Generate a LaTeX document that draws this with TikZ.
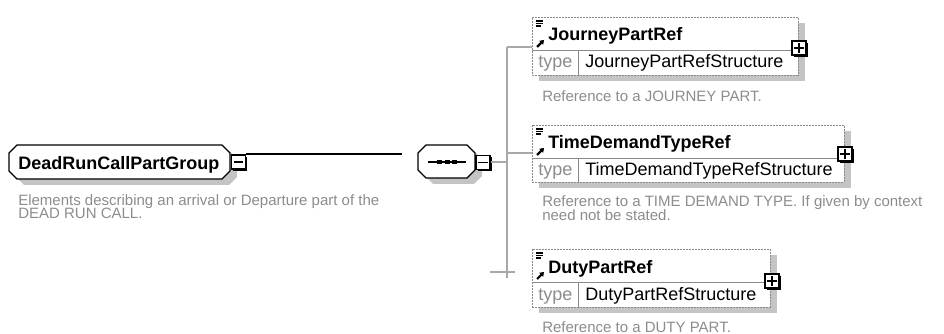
\documentclass[tikz,border=0pt]{standalone}
\usepackage{fontspec}
\setmainfont{Liberation Sans}
\usetikzlibrary{shadows,arrows.meta}
\newlength{\pxu}\setlength{\pxu}{0.75pt}
\definecolor{boxline}{HTML}{8A8A8A}
\definecolor{shadowgray}{HTML}{C4C4C4}
\definecolor{desctext}{HTML}{8C8C8C}
\definecolor{conngray}{HTML}{A8A8A8}
\tikzset{
  shad/.style={drop shadow={shadow xshift=5.25pt, shadow yshift=-4.5pt, fill=shadowgray, opacity=1}},
  elembox/.style={rectangle, draw=boxline, dash pattern=on 1.5pt off 0.75pt, fill=white, line width=0.6pt, inner sep=0, anchor=north west, shad},
  octo/.style={draw=black, line width=0.9pt, fill=white, shad},
  titletext/.style={font=\fontsize{13.5}{16}\selectfont\bfseries, inner sep=0, anchor=base west},
  typetext/.style={font=\fontsize{13.5}{16}\selectfont, inner sep=0, anchor=base west},
  typelabel/.style={typetext, text=desctext},
  desc/.style={font=\fontsize{11.25}{13}\selectfont, text=desctext, inner sep=0, anchor=base west},
  sepline/.style={draw=boxline, line width=0.6pt},
  conn/.style={draw=conngray, line width=0.8pt},
  mainconn/.style={draw=black, line width=0.8pt},
  togglebox/.style={rectangle, draw=black, fill=white, line width=0.8pt, minimum size=14\pxu, inner sep=0,
    drop shadow={shadow xshift=1.2pt, shadow yshift=-1.2pt, fill=black, opacity=1}},
  plusbox/.style={togglebox, path picture={
    \draw[line width=0.8pt] ([xshift=1.8pt]path picture bounding box.west) -- ([xshift=-1.8pt]path picture bounding box.east);
    \draw[line width=0.8pt] ([yshift=-1.8pt]path picture bounding box.north) -- ([yshift=1.8pt]path picture bounding box.south);}},
  minusbox/.style={togglebox, path picture={
    \draw[line width=0.8pt] ([xshift=1.8pt]path picture bounding box.west) -- ([xshift=-1.8pt]path picture bounding box.east);}},
  iconline/.style={draw=black, line width=0.8pt},
  iconarrow/.style={draw=black, line width=1.6pt, -{Triangle[length=3pt,width=4pt]}},
}
\begin{document}
\begin{tikzpicture}[x=0.75pt, y=-0.75pt]
\useasboundingbox (0,0) rectangle (944,334);

% ---------- main group node ----------
\path[octo] (17,145) -- (222,145) -- (230,153) -- (230,171) -- (222,179) -- (17,179) -- (9,171) -- (9,153) -- cycle;
\node[titletext] (main) at (18,170) {DeadRunCallPartGroup};
\node[minusbox] (mmin) at (238.5,162) {};
\node[desc] (md1) at (18,206) {Elements describing an arrival or Departure part of the};
\node[desc] (md2) at (18,219) {DEAD RUN CALL.};

% ---------- sequence node ----------
\path[octo] (426,145) -- (467,145) -- (475,153) -- (475,170) -- (467,178) -- (426,178) -- (418,170) -- (418,153) -- cycle;
\node[inner sep=0, minimum width=57\pxu, minimum height=33\pxu] (seq) at (446.5,161.5) {};
\draw[line width=1.2pt] (428,162) -- (466,162);
\fill (437,160) rectangle (442,164);
\fill (444.5,160) rectangle (449.5,164);
\fill (452,160) rectangle (457,164);
\node[minusbox] (smin) at (483,162.5) {};

% ---------- connectors ----------
\coordinate (gapend) at (402,154);
\draw[mainconn] (mmin.east |- gapend) -- (gapend);
\coordinate (vtop) at (507,47);
\coordinate (vmid) at (507,153);
\coordinate (vjoin) at (507,162);
\coordinate (vbot) at (507,278);
\coordinate (crossL) at (490,272);
\coordinate (crossR) at (515,272);
\draw[conn] (smin.east |- vjoin) -- (vjoin);
\draw[conn] (vtop) -- (vbot);
\draw[conn] (crossL) -- (crossR);

% ---------- JourneyPartRef ----------
\node[elembox, minimum width=266\pxu, minimum height=58\pxu] (jp) at (532,17) {};
\draw[sepline] (532,50) -- (798,50);
\draw[sepline] (578,50) -- (578,75);
\draw[iconline] (536,21) -- (543,21) (536,23.5) -- (543,23.5) (536,26) -- (541,26);
\draw[iconarrow] (537,47) -- (544,40);
\node[titletext] (jpn) at (548,41) {JourneyPartRef};
\node[typelabel] (jpl) at (538,68) {type};
\node[typetext] (jpt) at (585,68) {JourneyPartRefStructure};
\node[plusbox] (jpp) at (799,48) {};
\node[desc] (jpd) at (542,102) {Reference to a JOURNEY PART.};
\draw[conn] (vtop) -- (jp.west |- vtop);

% ---------- TimeDemandTypeRef ----------
\node[elembox, minimum width=312\pxu, minimum height=57\pxu] (td) at (532,125) {};
\draw[sepline] (532,158) -- (844,158);
\draw[sepline] (578,158) -- (578,182);
\draw[iconline] (536,129) -- (543,129) (536,131.5) -- (543,131.5) (536,134) -- (541,134);
\draw[iconarrow] (537,155) -- (544,148);
\node[titletext] (tdn) at (548,149) {TimeDemandTypeRef};
\node[typelabel] (tdl) at (538,176) {type};
\node[typetext] (tdt) at (585,176) {TimeDemandTypeRefStructure};
\node[plusbox] (tdp) at (845,154) {};
\node[desc] (tdd1) at (542,207) {Reference to a TIME DEMAND TYPE. If given by context};
\node[desc] (tdd2) at (542,221) {need not be stated.};
\draw[conn] (vmid) -- (td.west |- vmid);

% ---------- DutyPartRef ----------
\node[elembox, minimum width=238\pxu, minimum height=58\pxu] (dp) at (532,249) {};
\draw[sepline] (532,282) -- (770,282);
\draw[sepline] (578,282) -- (578,307);
\draw[iconline] (536,253) -- (543,253) (536,255.5) -- (543,255.5) (536,258) -- (541,258);
\draw[iconarrow] (537,279) -- (544,272);
\node[titletext] (dpn) at (548,273) {DutyPartRef};
\node[typelabel] (dpl) at (538,300) {type};
\node[typetext] (dpt) at (585,300) {DutyPartRefStructure};
\node[plusbox] (dpp) at (772,281) {};
\node[desc] (dpd) at (542,332) {Reference to a DUTY PART.};
\end{tikzpicture}
\end{document}
